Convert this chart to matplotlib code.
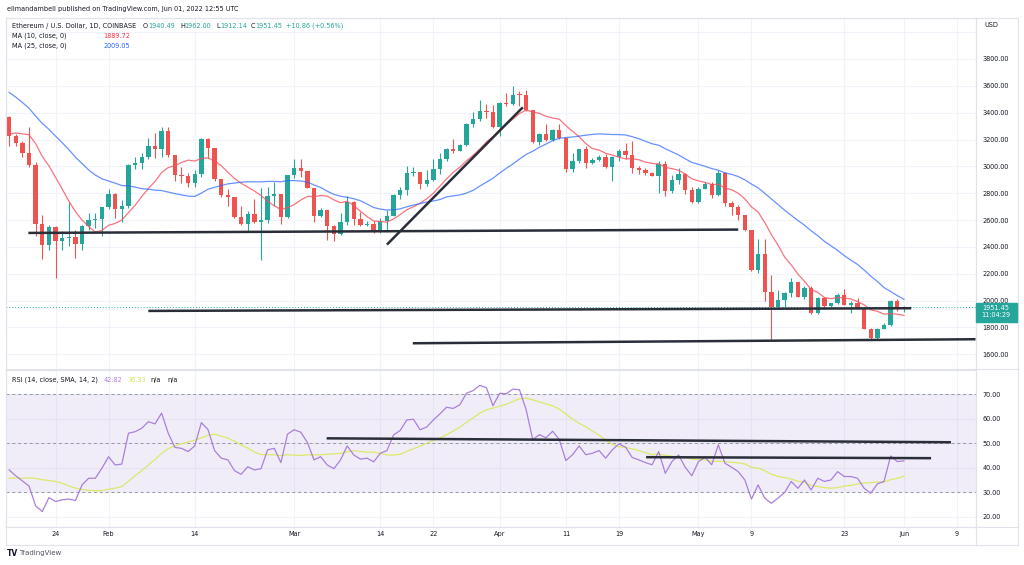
import matplotlib
matplotlib.use("Agg")
import matplotlib.pyplot as plt
import numpy as np
import pandas as pd
from matplotlib.patches import Rectangle
from matplotlib.lines import Line2D

# Velas diarias ETH / USD (Coinbase), 17 ene - 1 jun 2022
start_date = "2022-01-17"
opens = [3365, 3223, 3171, 3096, 3008, 2574, 2417, 2547, 2447, 2467, 2471, 2424, 2554, 2601, 2606, 2696,
         2796, 2686, 2704, 3008, 3023, 3071, 3153, 3128, 3260, 3085, 2933, 2925, 2879, 2941, 3203, 3135,
         2903, 2784, 2771, 2624, 2572, 2646, 2584, 2604, 2779, 2796, 2621, 2933, 2991, 2963, 2841, 2629,
         2674, 2554, 2499, 2584, 2734, 2609, 2562, 2574, 2509, 2596, 2629, 2784, 2824, 2948, 2955, 2871,
         2898, 2978, 3053, 3128, 3118, 3158, 3313, 3350, 3415, 3403, 3290, 3472, 3462, 3535, 3532, 3422,
         3178, 3240, 3198, 3270, 3208, 2983, 3043, 3128, 3028, 3048, 3073, 2996, 3066, 3111, 3083, 2991,
         2971, 2948, 2930, 3016, 2816, 2898, 2946, 2823, 2733, 2833, 2865, 2783, 2953, 2728, 2700, 2634,
         2524, 2227, 2347, 2066, 1955, 2005, 2055, 2142, 2025, 2092, 1905, 2022, 1960, 1980, 2043, 1968,
         1980, 1943, 1791, 1719, 1791, 1816, 2000, 1940.49]
highs = [3378, 3240, 3190, 3290, 3030, 2634, 2560, 2555, 2521, 2734, 2529, 2566, 2649, 2649, 2700, 2829,
         2805, 2750, 3015, 3071, 3098, 3213, 3248, 3290, 3293, 3085, 2995, 2950, 2971, 3210, 3210, 3140,
         2908, 2829, 2771, 2704, 2671, 2759, 2841, 2848, 2886, 2796, 2935, 3053, 3058, 2963, 2841, 2691,
         2674, 2560, 2654, 2779, 2741, 2659, 2596, 2596, 2616, 2674, 2791, 2849, 3003, 2998, 2958, 2973,
         3058, 3098, 3140, 3207, 3165, 3320, 3403, 3497, 3463, 3455, 3482, 3545, 3597, 3563, 3570, 3422,
         3248, 3315, 3278, 3318, 3208, 3098, 3133, 3148, 3063, 3088, 3090, 3078, 3128, 3173, 3191, 3003,
         2991, 2956, 3041, 3041, 2933, 2986, 2953, 2848, 2848, 2883, 2883, 2973, 2958, 2741, 2710, 2641,
         2524, 2457, 2457, 2187, 2080, 2063, 2167, 2142, 2112, 2105, 2030, 2030, 1985, 2055, 2085, 1995,
         2018, 1948, 1798, 1798, 1830, 2005, 2013, 1962.00]
lows = [3153, 3148, 3066, 2995, 2479, 2310, 2374, 2168, 2379, 2404, 2317, 2379, 2524, 2541, 2484, 2680,
        2617, 2584, 2690, 2978, 2978, 3055, 3063, 3071, 3073, 2891, 2873, 2846, 2846, 2923, 3061, 2891,
        2768, 2704, 2616, 2566, 2509, 2580, 2305, 2579, 2704, 2572, 2616, 2911, 2923, 2836, 2584, 2624,
        2454, 2447, 2490, 2566, 2566, 2554, 2554, 2504, 2504, 2514, 2629, 2760, 2784, 2928, 2833, 2853,
        2891, 2941, 3041, 3103, 3113, 3148, 3295, 3340, 3363, 3283, 3228, 3450, 3455, 3450, 3415, 3173,
        3158, 3190, 3190, 3203, 2958, 2961, 3028, 2991, 3016, 3040, 2991, 2891, 3041, 3053, 2953, 2941,
        2933, 2926, 2803, 2779, 2799, 2865, 2791, 2728, 2728, 2828, 2766, 2778, 2704, 2634, 2599, 2520,
        2222, 2203, 1998, 1698, 1943, 1948, 2030, 2025, 2010, 1900, 1900, 1935, 1950, 1975, 1965, 1910,
        1935, 1785, 1710, 1710, 1785, 1810, 1925, 1912.14]
closes = [3223, 3171, 3096, 3008, 2574, 2417, 2547, 2447, 2467, 2471, 2424, 2554, 2601, 2606, 2696, 2796,
          2686, 2704, 3008, 3023, 3071, 3153, 3128, 3260, 3085, 2933, 2925, 2879, 2941, 3203, 3135, 2903,
          2784, 2771, 2624, 2572, 2646, 2584, 2604, 2779, 2796, 2621, 2933, 2991, 2963, 2841, 2629, 2674,
          2554, 2499, 2584, 2734, 2609, 2562, 2574, 2509, 2596, 2629, 2784, 2824, 2948, 2955, 2871, 2898,
          2978, 3053, 3128, 3118, 3158, 3313, 3350, 3415, 3403, 3290, 3472, 3462, 3535, 3532, 3422, 3178,
          3240, 3198, 3270, 3208, 2983, 3043, 3128, 3028, 3048, 3073, 2996, 3066, 3111, 3083, 2991, 2971,
          2948, 2930, 3016, 2816, 2898, 2946, 2823, 2733, 2833, 2865, 2783, 2953, 2728, 2700, 2634, 2524,
          2227, 2347, 2066, 1955, 2005, 2055, 2142, 2025, 2092, 1905, 2022, 1960, 1980, 2043, 1968, 1980,
          1943, 1791, 1719, 1791, 1816, 2000, 1936, 1951.45]
# cierres previos (24 dic - 16 ene) solo para las medias moviles
prior_closes = [4045, 4100, 4070, 4040, 3795, 3630, 3715, 3680, 3770, 3830, 3760, 3790, 3540, 3410,
                3195, 3090, 3155, 3080, 3235, 3370, 3245, 3310, 3330, 3365]

rsi = [39.1, 36.7, 34.6, 32.5, 24.4, 22.1, 27.8, 26.2, 26.9, 27.2, 26.6, 33.0, 35.7, 35.7, 39.8, 44.5,
       41.1, 41.5, 54.1, 54.7, 56.1, 58.8, 57.9, 62.3, 54.1, 48.3, 47.9, 46.6, 48.9, 58.4, 55.6, 47.0,
       43.9, 43.2, 38.8, 37.3, 40.4, 39.1, 39.6, 47.3, 47.9, 42.1, 53.7, 55.5, 54.5, 50.3, 43.2, 44.5,
       41.1, 39.6, 43.2, 48.9, 45.2, 43.5, 43.9, 42.4, 45.9, 47.0, 53.4, 55.2, 59.5, 59.8, 55.5, 56.6,
       59.5, 62.0, 64.7, 64.2, 65.7, 70.4, 71.5, 73.6, 72.7, 65.3, 70.4, 70.2, 72.1, 71.8, 63.7, 51.5,
       53.5, 52.2, 54.9, 51.5, 42.9, 45.3, 48.9, 45.3, 45.9, 47.0, 43.9, 47.3, 49.7, 48.4, 44.2, 43.2,
       42.1, 41.2, 46.6, 37.7, 42.5, 45.2, 40.2, 36.7, 42.5, 44.3, 41.2, 49.3, 41.8, 40.2, 38.4, 35.0,
       27.2, 33.0, 27.6, 25.5, 27.6, 29.9, 34.4, 31.6, 35.0, 30.9, 35.7, 34.4, 35.0, 38.4, 36.4, 36.4,
       35.7, 31.6, 29.6, 33.4, 34.4, 44.8, 42.5, 42.82]
prior_rsi = [36, 35, 31, 27, 30, 32, 31.5, 37, 43, 39, 41, 40, 38.2]

# etiquetas del eje de tiempo
tick_dates = ["2022-01-24", "2022-02-01", "2022-02-14", "2022-03-01", "2022-03-14", "2022-03-22",
              "2022-04-01", "2022-04-11", "2022-04-19", "2022-05-01", "2022-05-09", "2022-05-23",
              "2022-06-01", "2022-06-09"]
tick_labels = ["24", "Feb", "14", "Mar", "14", "22", "Apr", "11", "19", "May", "9", "23", "Jun", "9"]

# lineas de tendencia dibujadas a mano: (dia desde el inicio, precio)
price_trends = [([2.9, 110.0], [2504, 2529]),
                ([57.0, 77.5], [2417, 3440]),
                ([21.0, 136.1], [1923, 1943]),
                ([60.9, 145.8], [1682, 1712])]
rsi_trends = [([47.9, 142.1], [52.0, 50.4]),
              ([96.1, 139.1], [44.3, 43.9])]

GREEN = "#26a69a"
RED = "#ef5350"
TXT = "#131722"
BORDER = "#e0e3eb"
GRID = "#f0f3fa"
FS = 4.7
W, H = 1024, 565

plt.rcParams["font.family"] = ["DejaVu Sans"]


def px_box(x0, y0, x1, y1):
    return [x0 / W, 1 - y1 / H, (x1 - x0) / W, (y1 - y0) / H]


def ftext(x, y, s, color=TXT, size=FS, **kw):
    fig.text(x / W, 1 - y / H, s, color=color, fontsize=size, va="center", **kw)


def fline(xs, ys, color=BORDER, lw=0.8, **kw):
    fig.add_artist(Line2D([x / W for x in xs], [1 - y / H for y in ys], color=color, lw=lw,
                          transform=fig.transFigure, **kw))


fig = plt.figure(figsize=(W / 100, H / 100), dpi=100)
fig.patch.set_facecolor("white")

t0 = pd.Timestamp(start_date)
tick_pos = [(pd.Timestamp(d) - t0).days for d in tick_dates]
idx = np.arange(len(closes))
o = np.array(opens)
c = np.array(closes)
h = np.array(highs)
l = np.array(lows)
colors = np.where(c >= o, GREEN, RED)

# Panel principal de precios
ax = fig.add_axes(px_box(5.5, 17.5, 975.5, 368.5))
ax.set_xlim(-0.55, 145.8)
ax.set_ylim(1494, 4109)
ax.vlines(idx, l, h, colors=colors, lw=0.8, zorder=3)
ax.bar(idx, np.maximum(np.abs(c - o), 6), bottom=np.minimum(o, c), width=0.66, color=colors,
       linewidth=0, zorder=4)

all_closes = pd.Series(prior_closes + closes)
ma10 = all_closes.rolling(10).mean().iloc[len(prior_closes):].values
ma25 = all_closes.rolling(25).mean().iloc[len(prior_closes):].values
ax.plot(idx, ma10, color="#f7525f", lw=0.9, alpha=0.8, zorder=5)
ax.plot(idx, ma25, color="#2962ff", lw=0.9, alpha=0.7, zorder=5)

for xs, ys in price_trends:
    ax.plot(xs, ys, color="#2a2e39", lw=1.8, solid_capstyle="butt", zorder=6)

ax.axhline(closes[-1], color=GREEN, lw=0.7, ls=(0, (1, 2)), zorder=2)

price_ticks = list(range(1600, 4001, 200))
ax.set_yticks(price_ticks)
ax.set_yticklabels(["%.2f" % p if p < 4000 else "" for p in price_ticks])
ax.yaxis.tick_right()
ax.set_xticks(tick_pos)
ax.tick_params(axis="y", length=0, pad=5, labelsize=FS, labelcolor=TXT)
ax.tick_params(axis="x", length=0, labelbottom=False)
ax.grid(True, color=GRID, lw=0.8, zorder=0)
ax.set_axisbelow(True)
for sp in ax.spines.values():
    sp.set_color(BORDER)
    sp.set_linewidth(0.8)

# Panel RSI
rax = fig.add_axes(px_box(5.5, 369.5, 975.5, 526.5))
rax.set_xlim(-0.55, 145.8)
rax.set_ylim(16.0, 80.1)
rax.axhspan(30, 70, color="#7e57c2", alpha=0.1, lw=0, zorder=1)
for lvl in (70, 50, 30):
    rax.axhline(lvl, color="#9598a1", lw=0.7, ls=(0, (3, 3)), zorder=2)
rsi_sma = pd.Series(prior_rsi + rsi).rolling(14).mean().iloc[len(prior_rsi):].values
rax.plot(idx, rsi_sma, color="#dde86a", lw=0.9, zorder=3)
rax.plot(idx, rsi, color="#a97fdc", lw=0.9, zorder=4)
for xs, ys in rsi_trends:
    rax.plot(xs, ys, color="#2a2e39", lw=1.8, solid_capstyle="butt", zorder=6)

rax.set_yticks(range(20, 71, 10))
rax.set_yticklabels(["%.2f" % v for v in range(20, 71, 10)])
rax.yaxis.tick_right()
rax.set_xticks(tick_pos)
rax.set_xticklabels(tick_labels)
rax.tick_params(axis="y", length=0, pad=5, labelsize=FS, labelcolor=TXT)
rax.tick_params(axis="x", length=0, pad=3.2, labelsize=FS, labelcolor=TXT)
rax.grid(True, color=GRID, lw=0.8, zorder=0)
rax.set_axisbelow(True)
for sp in rax.spines.values():
    sp.set_color(BORDER)
    sp.set_linewidth(0.8)

# Marco exterior y separadores
fline([5.5, 1018, 1018, 5.5, 5.5], [17.5, 17.5, 545, 545, 17.5])
fline([975.5, 975.5], [17.5, 545])
fline([975.5, 1018], [369, 369])
fline([5.5, 1018], [526.5, 526.5])

# Etiqueta del ultimo precio
fig.add_artist(Rectangle((975.5 / W, 1 - 322 / H), 41 / W, 19.5 / H, transform=fig.transFigure,
                         color=GREEN, zorder=5))
ftext(996, 307.5, "%.2f" % closes[-1], color="white", ha="center", zorder=6)
ftext(996, 315, "11:04:29", color="white", ha="center", zorder=6)
ftext(984, 25, "USD")

# Textos de cabecera y leyendas
ftext(7, 9.3, "elimandambell published on TradingView.com, Jun 01, 2022 12:55 UTC")
ftext(12, 25.7, "Ethereum / U.S. Dollar, 1D, COINBASE")
for x0, letter, x1, val in [(143, "O", 148, "1940.49"), (180, "H", 184.5, "1962.00"),
                            (216, "L", 220, "1912.14"), (250.5, "C", 255, "1951.45")]:
    ftext(x0, 25.7, letter)
    ftext(x1, 25.7, val, color=GREEN)
ftext(286, 25.7, "+10.86 (+0.56%)", color=GREEN)
ftext(12, 35.8, "MA (10, close, 0)")
ftext(103, 35.8, "1889.72", color="#f23645")
ftext(12, 45.9, "MA (25, close, 0)")
ftext(103, 45.9, "2009.05", color="#2962ff")
ftext(12, 380, "RSI (14, close, SMA, 14, 2)")
ftext(104, 380, "42.82", color="#b07ee0")
ftext(127, 380, "36.33", color="#d4e157")
ftext(150, 380, "n/a")
ftext(167, 380, "n/a")

ftext(7, 553, "TV", size=5.5, fontweight="bold")
ftext(19.5, 553, "TradingView", color="#50535e", size=5)

fig.savefig("out.png", dpi=100)
